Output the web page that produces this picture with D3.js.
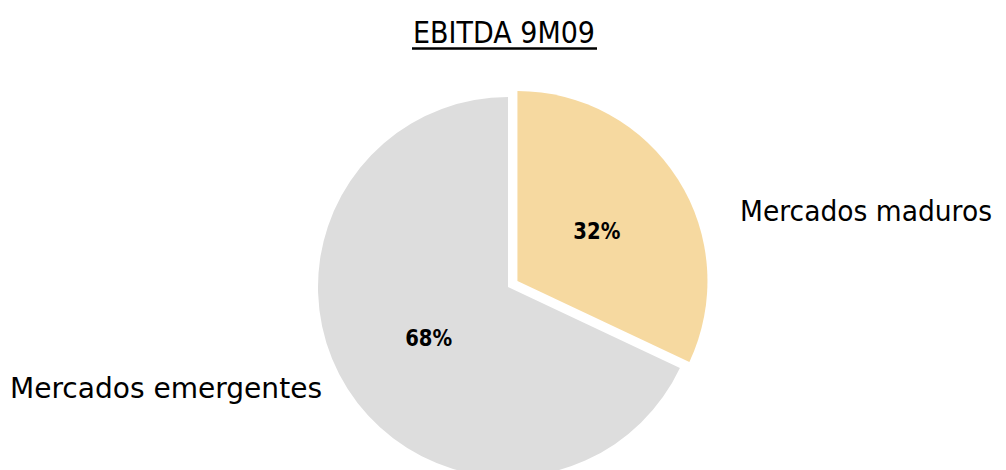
<!DOCTYPE html>
<html><head><meta charset="utf-8">
<script src="https://cdn.jsdelivr.net/npm/d3@7"></script>
<style>body{margin:0;background:#fff}svg{display:block}</style>
</head><body>
<svg id="c" width="1006" height="470"></svg>
<script>
const title = "EBITDA 9M09";
const categories = ["Mercados maduros", "Mercados emergentes"];
const values = [32, 68];
const valueLabels = ["32%", "68%"];
const colors = ["#F6D9A0", "#DDDDDD"];

const svg = d3.select("#c");
const cx = 508, cy = 287, R = 190, explode = 11.2, labelR = 94;
const font = "'DejaVu Sans', sans-serif";

const pie = d3.pie().sort(null).value(d => d)(values);
const arc = d3.arc().innerRadius(0).outerRadius(R);
const lab = d3.arc().innerRadius(labelR).outerRadius(labelR);

const g = svg.append("g").attr("transform", `translate(${cx},${cy})`);
pie.forEach((p, i) => {
  const mid = (p.startAngle + p.endAngle) / 2;
  const off = i === 0 ? explode : 0;
  const dx = Math.sin(mid) * off, dy = -Math.cos(mid) * off;
  const sg = g.append("g").attr("transform", `translate(${dx},${dy})`);
  sg.append("path").attr("d", arc(p)).attr("fill", colors[i]);
  const [lx, ly] = lab.centroid(p);
  sg.append("text").attr("x", lx).attr("y", ly).attr("dy", "0.36em")
    .attr("text-anchor", "middle").attr("font-family", font)
    .attr("font-weight", "bold").attr("font-size", 23)
    .attr("textLength", 47).attr("lengthAdjust", "spacingAndGlyphs")
    .attr("fill", "#000").text(valueLabels[i]);
});

// title
svg.append("text").attr("x", 504).attr("y", 43).attr("text-anchor", "middle")
  .attr("font-family", font).attr("font-size", 30)
  .attr("textLength", 182).attr("lengthAdjust", "spacingAndGlyphs")
  .attr("fill", "#000").text(title);
svg.append("line").attr("x1", 412).attr("x2", 597).attr("y1", 48.5).attr("y2", 48.5)
  .attr("stroke", "#000").attr("stroke-width", 2.5);

// category labels
svg.append("text").attr("x", 740).attr("y", 221).attr("text-anchor", "start")
  .attr("font-family", font).attr("font-size", 27.5)
  .attr("textLength", 252).attr("lengthAdjust", "spacingAndGlyphs")
  .attr("fill", "#000").text(categories[0]);
svg.append("text").attr("x", 10).attr("y", 398).attr("text-anchor", "start")
  .attr("font-family", font).attr("font-size", 27.5)
  .attr("textLength", 312).attr("lengthAdjust", "spacingAndGlyphs")
  .attr("fill", "#000").text(categories[1]);
</script>
</body></html>
